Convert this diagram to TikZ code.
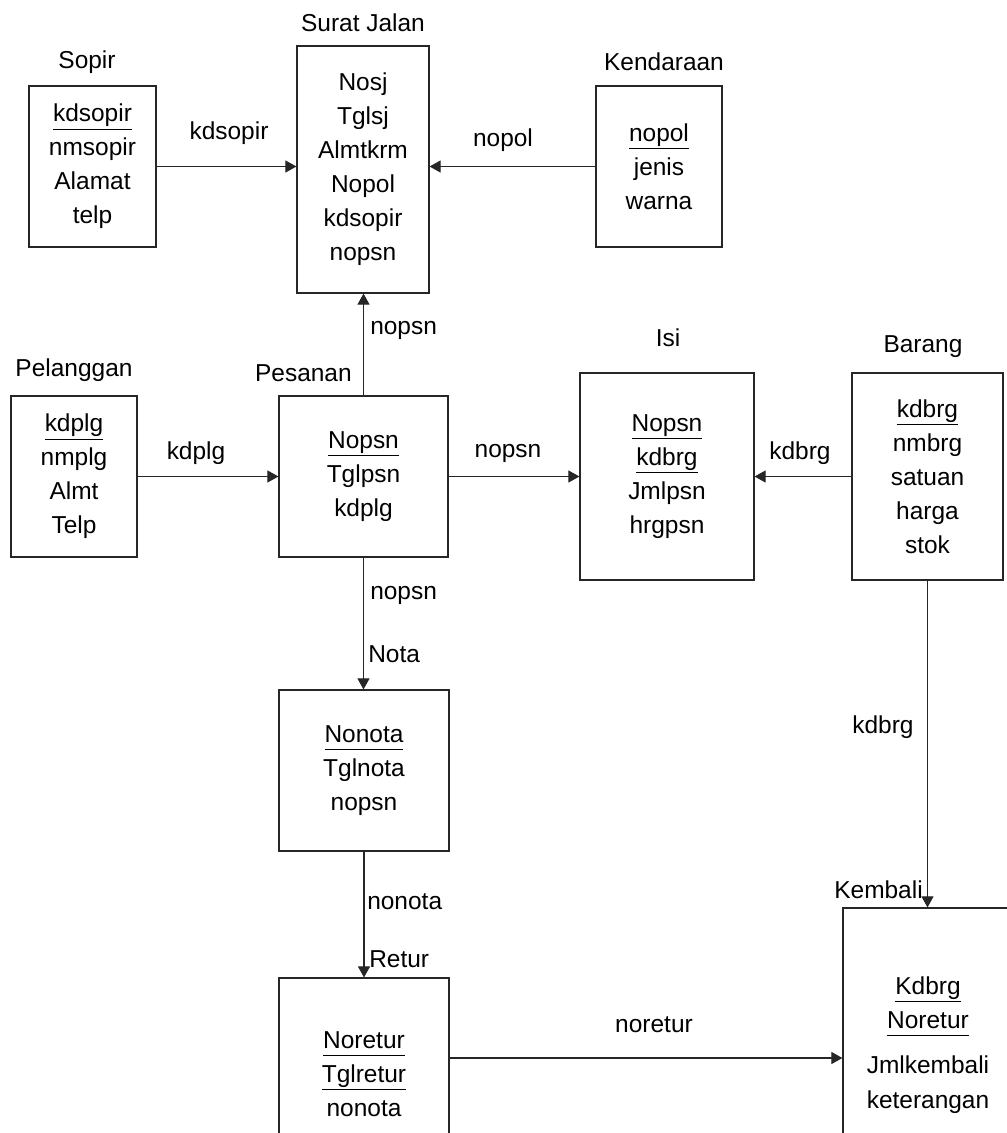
\documentclass[tikz,border=0pt]{standalone}
\usepackage{fontspec}
\setmainfont{Liberation Sans}
\usetikzlibrary{arrows.meta}
\newcommand{\pkey}[1]{\underline{#1\vphantom{p}}}

\begin{document}
\begin{tikzpicture}[x=0.025cm, y=-0.025cm,
  every node/.style={font=\fontsize{17.4}{24.2}\selectfont},
  entity/.style={draw=black!85, line width=0.8pt, align=center, inner sep=0pt},
  lbl/.style={inner sep=0pt},
  link/.style={draw=black!85, line width=0.8pt, -{Triangle[length=2.75mm, width=3mm]}}]
  \useasboundingbox (0,0) rectangle (1007,1133);
  \clip (0,0) rectangle (1007,1133);

  % entities
  \node[entity, minimum width=3.175cm, minimum height=4.025cm] (sopir) at (92.5,166.5) {\pkey{kdsopir} \\ nmsopir \\ Alamat \\ telp};
  \node[entity, minimum width=3.3cm, minimum height=6.175cm] (sj) at (363,169.5) {Nosj \\ Tglsj \\ Almtkrm \\ Nopol \\ kdsopir \\ nopsn};
  \node[entity, minimum width=3.15cm, minimum height=4.025cm] (kend) at (659,166.5) {\pkey{nopol} \\ jenis \\ warna};
  \node[entity, minimum width=3.15cm, minimum height=4.025cm] (plg) at (74,476.5) {\pkey{kdplg} \\ nmplg \\ Almt \\ Telp};
  \node[entity, minimum width=4.225cm, minimum height=4.025cm] (pes) at (363.5,476.5) {\pkey{Nopsn} \\ Tglpsn \\ kdplg};
  \node[entity, minimum width=4.35cm, minimum height=5.175cm] (isi) at (667,476.5) {\pkey{Nopsn} \\ \pkey{kdbrg} \\ Jmlpsn \\ hrgpsn};
  \node[entity, minimum width=3.775cm, minimum height=5.175cm] (brg) at (927.5,476.5) {\pkey{kdbrg} \\ nmbrg \\ satuan \\ harga \\ stok};
  \node[entity, minimum width=4.25cm, minimum height=4.025cm] (nota) at (364,770.5) {\pkey{Nonota} \\ Tglnota \\ nopsn};
  \node[entity, minimum width=4.25cm, minimum height=4.8cm] (retur) at (364,1074) {\pkey{Noretur} \\ \pkey{Tglretur} \\ nonota};
  \node[entity, minimum width=4.25cm, minimum height=6.85cm] (kem) at (928,1045) {\pkey{Kdbrg} \\ \pkey{Noretur} \\[8pt] Jmlkembali \\ keterangan};

  % entity titles
  \node[lbl] (sopir-t) at (87,62) {Sopir};
  \node[lbl] (sj-t) at (363,23) {Surat Jalan};
  \node[lbl] (kend-t) at (664,62) {Kendaraan};
  \node[lbl] (plg-t) at (74,370) {Pelanggan};
  \node[lbl, anchor=east] (pes-t) at (352,373) {Pesanan};
  \node[lbl] (isi-t) at (668,338) {Isi};
  \node[lbl] (brg-t) at (923,347) {Barang};
  \node[lbl, anchor=west] (nota-t) at (368,654) {Nota};
  \node[lbl, anchor=west] (retur-t) at (369,959) {Retur};
  \node[lbl, anchor=east] (kem-t) at (923,890) {Kembali};

  % relations
  \coordinate (ret-y) at (0,1058);
  \draw[link] (sopir) -- (sopir -| sj.west);
  \draw[link] (kend) -- (kend -| sj.east);
  \draw[link] (pes.north) -- (pes.north |- sj.south);
  \draw[link] (plg) -- (pes);
  \draw[link] (pes) -- (isi);
  \draw[link] (brg) -- (isi);
  \draw[link] (pes.south) -- (pes.south |- nota.north);
  \draw[link] (nota) -- (retur);
  \draw[link] (brg.south) -- (brg.south |- kem.north);
  \draw[link] (retur.east |- ret-y) -- (kem.west |- ret-y);

  % relation labels
  \node[lbl] (l-kdsopir) at (229,133) {kdsopir};
  \node[lbl] (l-nopol) at (503,140) {nopol};
  \node[lbl, anchor=west] (l-nopsn-up) at (370,330) {nopsn};
  \node[lbl] (l-kdplg) at (196,453) {kdplg};
  \node[lbl] (l-nopsn-isi) at (508,453) {nopsn};
  \node[lbl] (l-kdbrg-isi) at (800,453) {kdbrg};
  \node[lbl, anchor=west] (l-nopsn-down) at (370,595) {nopsn};
  \node[lbl, anchor=west] (l-nonota) at (367,902) {nonota};
  \node[lbl] (l-kdbrg-kem) at (883,727) {kdbrg};
  \node[lbl] (l-noretur) at (654,1025) {noretur};
\end{tikzpicture}
\end{document}
